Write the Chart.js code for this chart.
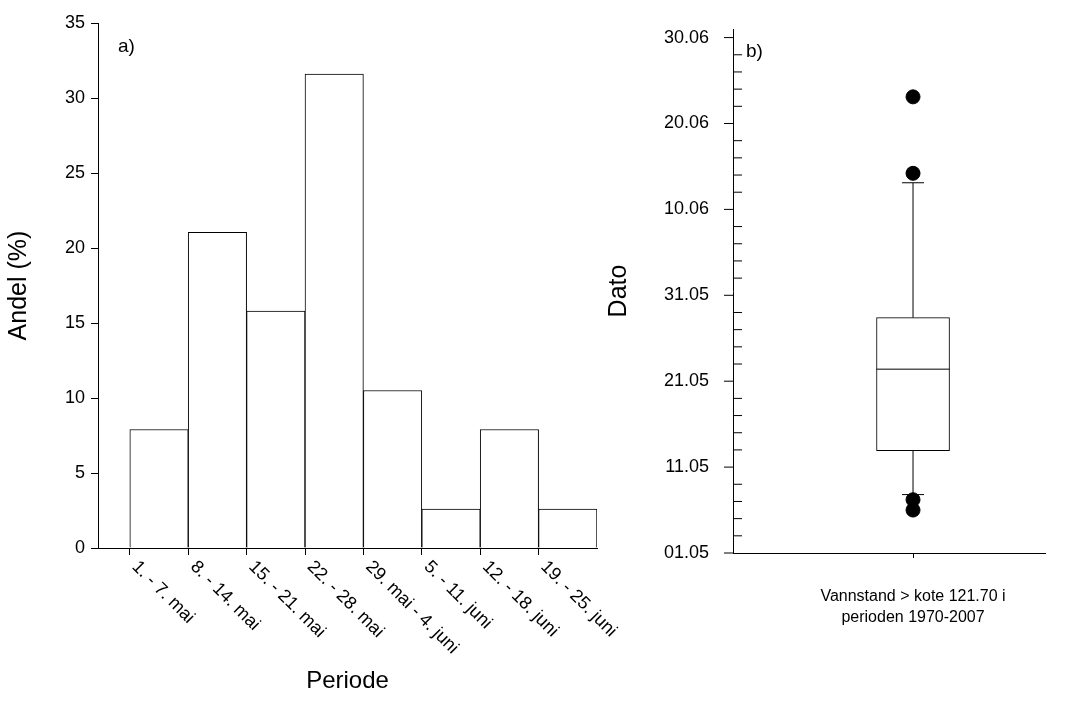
<!DOCTYPE html>
<html><head><meta charset="utf-8">
<script src="https://cdn.jsdelivr.net/npm/chart.js@4"></script>
<style>
body{margin:0;background:#fff;width:1084px;height:718px;position:relative;overflow:hidden}
#c1{position:absolute;left:0;top:0}
#c2{position:absolute;left:600px;top:0}
</style></head><body>
<canvas id="c1" width="650" height="718"></canvas>
<canvas id="c2" width="484" height="718"></canvas>
<script>
// Data a): andel per periode
const periods = ['1. - 7. mai', '8. - 14. mai', '15. - 21. mai', '22. - 28. mai', '29. mai - 4. juni', '5. - 11. juni', '12. - 18. juni', '19. - 25. juni'];
const shares = [7.9, 21.05, 15.8, 31.6, 10.5, 2.6, 7.9, 2.6];
// Data b): dager etter 1. mai
const boxLow = 6.8, boxQ1 = 11.9, boxMedian = 21.4, boxQ3 = 27.4, boxHigh = 43.1;
const outliers = [53.1, 44.2, 6.2, 5.0];
const dateTicks = ['01.05', '11.05', '21.05', '31.05', '10.06', '20.06', '30.06'];
const boxLabel = ['Vannstand > kote 121.70 i', 'perioden 1970-2007'];

Chart.defaults.font.family = '"Liberation Sans", Arial, sans-serif';
Chart.defaults.color = '#000';
Chart.defaults.animation = false;

// a) histogram
new Chart(document.getElementById('c1'), {
    type: 'bar',
    data: { datasets: [{ data: shares.map((v, i) => ({ x: i + 0.5, y: v })), backgroundColor: '#fff', borderColor: '#000', borderWidth: 1, barThickness: 58.4 }] },
    options: {
        responsive: false, layout: { padding: { top: 23, right: 53, left: 0, bottom: 0 } },
        plugins: { legend: { display: false }, tooltip: { enabled: false } },
        scales: {
            x: { type: 'linear', offset: false, min: -0.545, max: 8, afterFit: s => { s.height = 170; },
                afterBuildTicks: s => { s.ticks = periods.map((p, i) => ({ value: i })); },
                ticks: { display: false },
                grid: { offset: false, drawOnChartArea: false, tickLength: 7, color: '#000' }, border: { color: '#000' },
                title: { display: true, text: 'Periode', font: { size: 24 }, padding: { bottom: 22 } } },
            y: { min: 0, max: 35, afterFit: s => { s.width = 98; },
                ticks: { stepSize: 5, font: { size: 18 }, padding: 6 },
                grid: { drawOnChartArea: false, tickLength: 7, color: '#000' }, border: { color: '#000' },
                title: { display: true, text: 'Andel (%)', font: { size: 25 }, padding: { bottom: 4 } } }
        }
    },
    plugins: [{ id: 'lbl', afterDraw(c) {
        const ctx = c.ctx, x = c.scales.x, y0 = c.chartArea.bottom;
        ctx.save(); ctx.font = '18px "Liberation Sans", Arial'; ctx.fillStyle = '#000';
        periods.forEach((p, i) => {
            ctx.save(); ctx.translate(x.getPixelForValue(i) + 5, y0 + 16); ctx.rotate(Math.PI / 4);
            ctx.textBaseline = 'middle'; ctx.fillText(p, 0, 0); ctx.restore();
        });
        ctx.font = '19px "Liberation Sans", Arial'; ctx.fillText('a)', 118, 52);
        ctx.restore();
    } }]
});

// b) boxplot
const bx = 0.577;
new Chart(document.getElementById('c2'), {
    type: 'bar',
    data: { datasets: [
        { type: 'bar', data: [{ x: bx, y: [boxQ1, boxQ3] }], backgroundColor: '#fff', borderColor: '#000', borderWidth: 1, borderSkipped: false, barThickness: 73 },
        { type: 'scatter', data: outliers.map(v => ({ x: bx, y: v })), pointRadius: 7, backgroundColor: '#000', borderColor: '#000' }
    ] },
    options: {
        responsive: false, layout: { padding: { top: 29, right: 39, left: 0, bottom: 0 } },
        plugins: { legend: { display: false }, tooltip: { enabled: false } },
        scales: {
            x: { type: 'linear', offset: false, min: 0, max: 1, afterFit: s => { s.height = 165; },
                afterBuildTicks: s => { s.ticks = [{ value: bx }]; },
                ticks: { callback: () => boxLabel, font: { size: 16, lineHeight: 1.3 }, maxRotation: 0, padding: 28 },
                grid: { offset: false, drawOnChartArea: false, tickLength: 5, color: '#000' }, border: { color: '#000' } },
            y: { min: 0, max: 61, afterFit: s => { s.width = 133; },
                afterBuildTicks: s => { s.ticks = dateTicks.map((t, i) => ({ value: i * 10 })); },
                ticks: { callback: (v, i) => dateTicks[i], font: { size: 18 }, padding: 16 },
                grid: { display: false }, border: { color: '#000' },
                title: { display: true, text: 'Dato', font: { size: 25 }, padding: { bottom: 0 } } }
        }
    },
    plugins: [{ id: 'box', afterDatasetsDraw(c) {
        const ctx = c.ctx, x = c.scales.x, y = c.scales.y, xl = c.chartArea.left;
        const cx = x.getPixelForValue(bx), hw = 36.5;
        ctx.save(); ctx.strokeStyle = '#000'; ctx.lineWidth = 1;
        const ln = (a, b, d, e) => { ctx.beginPath(); ctx.moveTo(a, b); ctx.lineTo(d, e); ctx.stroke(); };
        ln(cx - hw, y.getPixelForValue(boxMedian), cx + hw, y.getPixelForValue(boxMedian));
        ln(cx, y.getPixelForValue(boxQ3), cx, y.getPixelForValue(boxHigh));
        ln(cx, y.getPixelForValue(boxQ1), cx, y.getPixelForValue(boxLow));
        ln(cx - 11, y.getPixelForValue(boxHigh), cx + 11, y.getPixelForValue(boxHigh));
        ln(cx - 11, y.getPixelForValue(boxLow), cx + 11, y.getPixelForValue(boxLow));
        for (let d = 0; d <= 60; d += 2) {
            const py = y.getPixelForValue(d);
            if (d % 10 === 0) ln(xl - 9, py, xl, py); else ln(xl, py, xl + 9, py);
        }
        ctx.fillStyle = '#000'; ctx.font = '19px "Liberation Sans", Arial'; ctx.fillText('b)', xl + 13, 57);
        ctx.restore();
    } }]
});
</script></body></html>
